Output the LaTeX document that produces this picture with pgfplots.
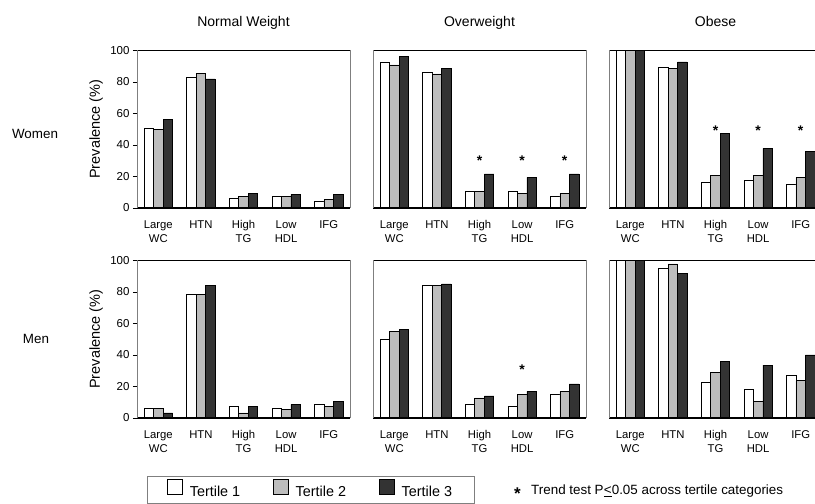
\documentclass[border=0pt]{standalone}
\usepackage{pgfplots}
\pgfplotsset{compat=1.18}
\usepackage{fontspec}
\setmainfont{Liberation Sans}
\definecolor{tgray}{HTML}{BDBDBD}
\definecolor{tdark}{HTML}{333333}
\definecolor{framec}{HTML}{7F7F7F}

\pgfplotsset{
 panel/.style={
  scale only axis, width=213pt, height=157.5pt,
  ybar=0pt, bar width=9.5pt,
  ymin=0, ymax=100, xmin=-0.5, xmax=4.5,
  axis on top,
  xtick={0,1,2,3,4},
  xticklabels={Large\\WC,HTN,High\\TG,Low\\HDL,IFG},
  x tick label style={font=\fontsize{11.3}{14}\selectfont, align=center, anchor=north, yshift=-5pt},
  xtick style={draw=none},
  separate axis lines,
  x axis line style={line width=1.3pt},
  y axis line style={draw=framec, line width=0.8pt},
  ytick=\empty,
  /pgf/number format/assume math mode=true,
  every axis plot/.append style={draw=black, line width=0.6pt},
 },
 firstcol/.style={
  ytick={0,20,40,60,80,100}, ytick pos=left, tick align=outside,
  major tick length=4pt,
  ytick style={draw=black, line width=0.6pt},
  y tick label style={font=\fontsize{11.5}{13}\selectfont},
  ylabel={Prevalence (\%)},
  every axis y label/.style={at={([xshift=-41pt]axis description cs:0,0.5)}, rotate=90, anchor=center, font=\fontsize{14.5}{16}\selectfont},
 },
 t1/.style={fill=white, legend image code/.code={\draw[##1, line width=0.5pt] (0pt,-2.5pt) rectangle (15pt,12.5pt);}},
 t2/.style={fill=tgray, legend image code/.code={\draw[##1, line width=0.5pt] (0pt,-2.5pt) rectangle (15pt,12.5pt);}},
 t3/.style={fill=tdark, legend image code/.code={\draw[##1, line width=0.5pt] (0pt,-2.5pt) rectangle (15pt,12.5pt);}},
}
\tikzset{starnode/.style={font=\fontsize{14}{14}\selectfont\bfseries, anchor=base, yshift=-8pt}}

\begin{document}
\begin{tikzpicture}
% ---------- Women, Normal weight
\begin{axis}[panel, firstcol, at={(137pt,296pt)}, anchor=south west]
\addplot[t1] coordinates {(0,50.5) (1,83) (2,6.3) (3,7.4) (4,4)};
\addplot[t2] coordinates {(0,49.7) (1,85.3) (2,7.4) (3,7.4) (4,5.3)};
\addplot[t3] coordinates {(0,56) (1,82) (2,9.5) (3,8.7) (4,8.7)};
\end{axis}
% ---------- Women, Overweight
\begin{axis}[panel, at={(373pt,296pt)}, anchor=south west]
\addplot[t1] coordinates {(0,92.8) (1,86.3) (2,10.6) (3,10.6) (4,7.4)};
\addplot[t2] coordinates {(0,90.9) (1,85.2) (2,10.6) (3,9.5) (4,9.5)};
\addplot[t3] coordinates {(0,96.2) (1,88.4) (2,21.6) (3,19.5) (4,21.6)};
\node[starnode] at (axis cs:2,32) {*};
\node[starnode] at (axis cs:3,32) {*};
\node[starnode] at (axis cs:4,32) {*};
\end{axis}
% ---------- Women, Obese
\begin{axis}[panel, at={(609pt,296pt)}, anchor=south west]
\addplot[t1] coordinates {(0,100) (1,89.6) (2,16.3) (3,17.3) (4,15.2)};
\addplot[t2] coordinates {(0,100) (1,88.4) (2,20.5) (3,20.5) (4,19.5)};
\addplot[t3] coordinates {(0,100) (1,92.8) (2,47.4) (3,37.8) (4,35.7)};
\node[starnode] at (axis cs:2,50.8) {*};
\node[starnode] at (axis cs:3,50.8) {*};
\node[starnode] at (axis cs:4,50.8) {*};
\end{axis}
% ---------- Men, Normal weight
\begin{axis}[panel, firstcol, at={(137pt,86pt)}, anchor=south west,
  legend columns=3,
  legend style={at={(axis description cs:0.047,-0.367)}, anchor=north west, draw=framec,
    line width=0.6pt,
    font=\fontsize{14.4}{16}\selectfont, inner xsep=20pt, inner ysep=3pt,
    /tikz/every even column/.append style={column sep=31pt},
    /tikz/every odd column/.append style={column sep=5pt}},
  ]
\addplot[t1] coordinates {(0,6.3) (1,78.6) (2,7.4) (3,6.3) (4,8.7)};
\addplot[t2] coordinates {(0,6.3) (1,78.6) (2,3.2) (3,5.3) (4,7.4)};
\addplot[t3] coordinates {(0,3.2) (1,84.1) (2,7.4) (3,8.7) (4,10.6)};
\legend{Tertile 1, Tertile 2, Tertile 3}
\end{axis}
% ---------- Men, Overweight
\begin{axis}[panel, at={(373pt,86pt)}, anchor=south west]
\addplot[t1] coordinates {(0,49.7) (1,84.1) (2,8.7) (3,7.4) (4,14.8)};
\addplot[t2] coordinates {(0,55) (1,84.1) (2,12.7) (3,14.8) (4,16.9)};
\addplot[t3] coordinates {(0,56) (1,85.2) (2,14) (3,16.9) (4,21.6)};
\node[starnode] at (axis cs:3,33) {*};
\end{axis}
% ---------- Men, Obese
\begin{axis}[panel, at={(609pt,86pt)}, anchor=south west]
\addplot[t1] coordinates {(0,100) (1,94.9) (2,22.6) (3,18.4) (4,26.8)};
\addplot[t2] coordinates {(0,100) (1,97.9) (2,29) (3,10.6) (4,23.7)};
\addplot[t3] coordinates {(0,100) (1,91.8) (2,35.7) (3,33.6) (4,40)};
\end{axis}
% ---------- titles and row labels
\node[font=\fontsize{14}{16}\selectfont, anchor=base] at (243.5pt,477pt) {Normal Weight};
\node[font=\fontsize{14}{16}\selectfont, anchor=base] at (479.5pt,477pt) {Overweight};
\node[font=\fontsize{14}{16}\selectfont, anchor=base] at (715.5pt,477pt) {Obese};
\node[font=\fontsize{13.4}{15}\selectfont, anchor=base] at (35pt,365pt) {Women};
\node[font=\fontsize{13.4}{15}\selectfont, anchor=base] at (36pt,160pt) {Men};
\node[font=\fontsize{17}{17}\selectfont\bfseries, anchor=base west, inner sep=0pt] at (514pt,5pt) {*};
\node[font=\fontsize{13.4}{15}\selectfont, anchor=base west, inner sep=0pt] at (531pt,9.3pt) {Trend test P\kern0.3pt\underline{<}0.05 across tertile categories};
\pgfresetboundingbox
\useasboundingbox (0pt,0pt) rectangle (815pt,504pt);
\end{tikzpicture}
\end{document}
